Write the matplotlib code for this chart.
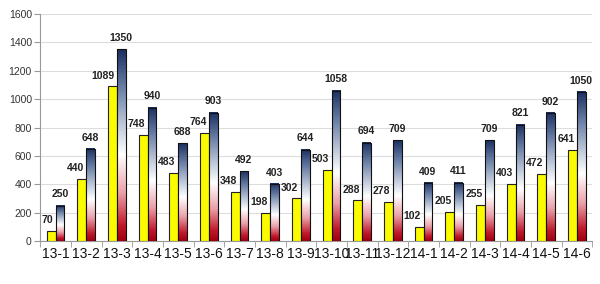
import numpy as np
import matplotlib.pyplot as plt
from matplotlib.colors import LinearSegmentedColormap

months = ['13-1', '13-2', '13-3', '13-4', '13-5', '13-6', '13-7', '13-8', '13-9',
          '13-10', '13-11', '13-12', '14-1', '14-2', '14-3', '14-4', '14-5', '14-6']
yellow_vals = [70, 440, 1089, 748, 483, 764, 348, 198, 302, 503, 288, 278, 102, 205, 255, 403, 472, 641]
blue_vals = [250, 648, 1350, 940, 688, 903, 492, 403, 644, 1058, 694, 709, 409, 411, 709, 821, 902, 1050]
yticks = [0, 200, 400, 600, 800, 1000, 1200, 1400, 1600]

plt.rcParams['font.family'] = ['Liberation Sans', 'DejaVu Sans']

fig = plt.figure(figsize=(6, 2.84), dpi=100)
ax = fig.add_axes([0.067, 0.151, 0.92, 0.80])

x = np.arange(len(months))
w = 0.29

# red -> white -> navy, per bar (like the excel gradient fill)
grad = LinearSegmentedColormap.from_list('rwb', [
    (0.0, '#a00010'), (0.08, '#c0182a'), (0.25, '#eaa0a8'), (0.45, '#ffffff'),
    (0.6, '#c0cadb'), (0.8, '#6a7fa5'), (1.0, '#1a2f60')])

ybars = ax.bar(x - w / 2, yellow_vals, w, color='#fafa00', edgecolor='#222222', linewidth=0.8, zorder=3)
bbars = ax.bar(x + w / 2, blue_vals, w, color='none', edgecolor='#111111', linewidth=0.8, zorder=4)

g = np.linspace(0, 1, 256).reshape(-1, 1)
for b in bbars:
    x0 = b.get_x()
    ax.imshow(g, cmap=grad, origin='lower', aspect='auto', zorder=3,
              extent=[x0, x0 + b.get_width(), 0, b.get_height()])

for b, v in zip(ybars, yellow_vals):
    ax.text(b.get_x() + b.get_width() - 0.08, v + 40, str(v), ha='right', va='bottom',
            fontsize=7.5, fontweight='bold', color='#222222', zorder=5)
for b, v in zip(bbars, blue_vals):
    ax.text(b.get_x() + b.get_width() / 2, v + 45, str(v), ha='center', va='bottom',
            fontsize=7.5, fontweight='bold', color='#222222', zorder=5)

ax.set_xlim(-0.5, len(months) - 0.5)
ax.set_ylim(0, 1600)
ax.set_yticks(yticks)
ax.set_yticklabels([str(t) for t in yticks], fontsize=7.5, color='#333333')
ax.set_xticks(x)
ax.set_xticklabels(months, fontsize=10, color='#111111')
ax.set_xticks(np.arange(-0.5, len(months)), minor=True)
ax.tick_params(axis='x', which='major', length=0, pad=4)
ax.tick_params(axis='x', which='minor', length=4, color='#999999')
ax.tick_params(axis='y', length=4, color='#999999', pad=2)

ax.grid(axis='y', color='#dddddd', linewidth=0.8, zorder=0)
for s in ['top', 'right']:
    ax.spines[s].set_visible(False)
ax.spines['left'].set_color('#999999')
ax.spines['bottom'].set_color('#999999')

fig.savefig('out.png', dpi=100, facecolor='white')
